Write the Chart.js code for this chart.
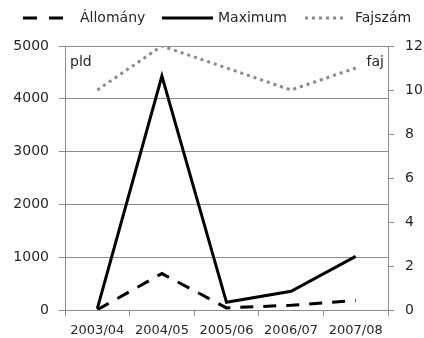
<!DOCTYPE html>
<html><head><meta charset="utf-8">
<script src="https://cdn.jsdelivr.net/npm/chart.js@4/dist/chart.umd.min.js"></script>
<style>html,body{margin:0;padding:0;background:#fff}#wrap{width:424px;height:338px;position:relative}</style>
</head><body><div id="wrap"><canvas id="c" width="424" height="338"></canvas></div>
<script>
const categories = ['2003/04','2004/05','2005/06','2006/07','2007/08'];
const allomany = [5, 690, 40, 90, 180];
const maximum = [25, 4430, 145, 355, 1015];
const fajszam = [10, 12, 11, 10, 11];
const seriesNames = ['Állomány','Maximum','Fajszám'];
const axisNotes = ['pld','faj'];

const FONT = "'DejaVu Sans', sans-serif";
const TXT = '#262626';
const GRID = '#8c8c8c';
const DOT = '#8a8a8a';

const styles = [
  {color:'#000', width:3, dash:[13,10], legendDash:[14,12], lx:23, lw:40, tx:80},
  {color:'#000', width:3, dash:[], legendDash:[], lx:162, lw:51, tx:218},
  {color:DOT, width:3, dash:[3,4], legendDash:[3,4], lx:305, lw:42, tx:355}
];

const legendPlugin = {
  id:'customLegend',
  afterDraw(chart){
    const ctx = chart.ctx;
    ctx.save();
    const y = 18;
    chart.data.datasets.forEach((ds,i)=>{
      const s = styles[i];
      ctx.beginPath();
      ctx.setLineDash(s.legendDash);
      ctx.lineWidth = s.width;
      ctx.strokeStyle = s.color;
      ctx.lineCap = 'butt';
      ctx.moveTo(s.lx, y);
      ctx.lineTo(s.lx + s.lw, y);
      ctx.stroke();
      ctx.setLineDash([]);
      ctx.fillStyle = TXT;
      ctx.font = '14px ' + FONT;
      ctx.textBaseline = 'middle';
      ctx.textAlign = 'left';
      ctx.fillText(ds.label, s.tx, y);
    });
    const ca = chart.chartArea;
    ctx.font = '14px ' + FONT;
    ctx.textAlign = 'left';
    ctx.fillText(axisNotes[0], ca.left + 5, ca.top + 16);
    ctx.textAlign = 'right';
    ctx.fillText(axisNotes[1], ca.right - 4, ca.top + 16);
    ctx.restore();
  }
};

new Chart(document.getElementById('c'), {
  type:'line',
  data:{
    labels:categories,
    datasets:[
      {label:seriesNames[0], data:allomany, yAxisID:'y', borderColor:styles[0].color, borderWidth:3, borderDash:styles[0].dash, pointRadius:0, tension:0, fill:false},
      {label:seriesNames[1], data:maximum, yAxisID:'y', borderColor:styles[1].color, borderWidth:3, pointRadius:0, tension:0, fill:false},
      {label:seriesNames[2], data:fajszam, yAxisID:'y1', borderColor:styles[2].color, borderWidth:3, borderDash:styles[2].dash, pointRadius:0, tension:0, fill:false}
    ]
  },
  options:{
    responsive:false,
    animation:false,
    devicePixelRatio:1,
    layout:{padding:{top:46, left:0, right:0, bottom:0}},
    plugins:{legend:{display:false}, tooltip:{enabled:false}},
    scales:{
      x:{
        offset:true,
        grid:{offset:true, drawOnChartArea:false, drawTicks:true, tickLength:6, color:GRID},
        border:{color:GRID, width:1},
        ticks:{color:TXT, font:{family:FONT, size:13}, padding:7, maxRotation:0, autoSkip:false},
        afterFit(s){ s.height = 28; }
      },
      y:{
        position:'left', min:0, max:5000,
        ticks:{stepSize:1000, color:TXT, font:{family:FONT, size:14}, padding:10, callback:v=>String(v)},
        grid:{color:GRID, tickLength:6, drawTicks:true},
        border:{color:GRID, width:1},
        afterFit(s){ s.width = 65; }
      },
      y1:{
        position:'right', min:0, max:12,
        ticks:{stepSize:2, color:TXT, font:{family:FONT, size:14}, padding:11, callback:v=>String(v)},
        grid:{drawOnChartArea:false, color:GRID, tickLength:6, drawTicks:true},
        border:{color:GRID, width:1},
        afterFit(s){ s.width = 36; }
      }
    }
  },
  plugins:[legendPlugin]
});
</script></body></html>
